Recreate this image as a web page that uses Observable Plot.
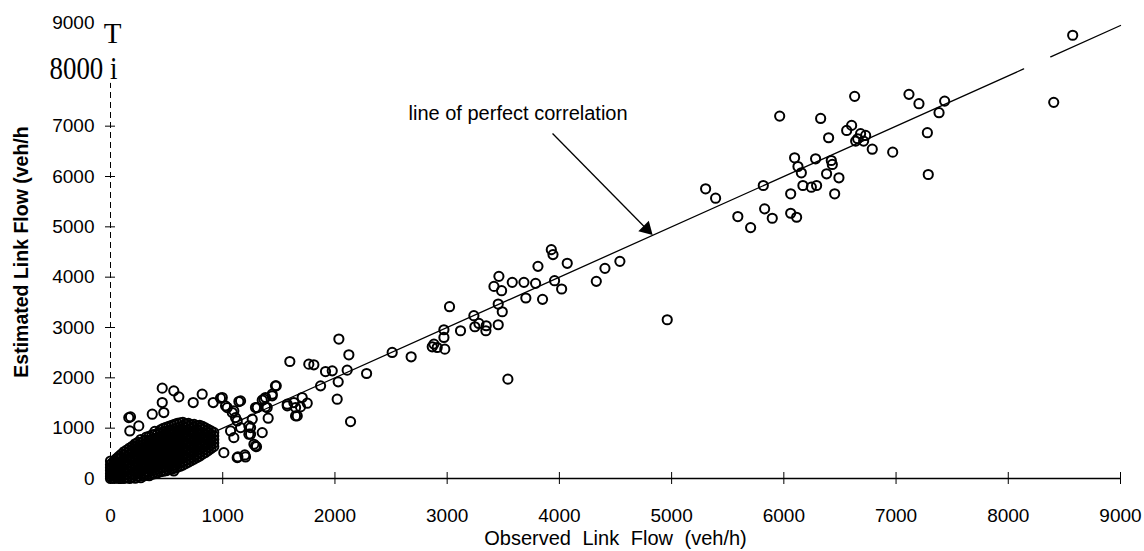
<!DOCTYPE html>
<html><head><meta charset="utf-8">
<script src="https://cdn.jsdelivr.net/npm/d3@7"></script>
<script src="https://cdn.jsdelivr.net/npm/@observablehq/plot@0.6"></script>
<style>body{margin:0;background:#fff}</style>
</head><body><div id="chart"></div>
<script>
// ---- data ----
const xTicks = [0,1000,2000,3000,4000,5000,6000,7000,8000,9000];
const yTicksMarked = [0,1000,2000,3000,4000,5000,6000,7000];
const yTickTop = [9000];
const yTickScanned = ["8000 i"];
const yTickScannedValue = [8000];
const glyphTop = ["T"];
const glyphTopValue = [9000];
const xLabel = "Observed Link Flow (veh/h)";
const yLabel = "Estimated Link Flow (veh/h";
const noteLabel = "line of perfect correlation";
const perfectSegments = [[0,8137],[8378,9000]];

const observed = [8574,8405,5963,6631,7115,7204,7433,7383,7279,7287,6970,6788,6328,6399,6604,6560,6640,6684,6729,6658,6711,6096,6126,6156,6283,6423,6432,6381,6491,6170,6245,6292,6061,6453,5817,5829,5897,6061,6114,5590,5704,5303,5392,
4961,4539,4406,3928,3943,4070,3809,4329,3461,3417,3485,3580,3684,3788,3957,4020,3701,3850,3455,3491,3021,3238,3247,3283,3348,3345,3455,3119,2971,2971,2882,2911,2979,2867,3541,
2035,2124,2510,2679,2282,2109,2029,2020,2139,1872,1976,1916,1767,1812,1598,1708,1575,1634,1649,1753,1664,1693,1477,1441,1367,1381,1292,1405,1352,1248,1292,1203,1129,1159,996,817,609,461,564,461,737,915,178,372,475,172,252,1010,564,1278,1248,1099,1070,1129,1085,1025,163,980,1144,297,89,0,1135,1197,1301,1233,1159,1233,1263,1114,1099,1040,1307,1396,1352,1381,1470,1441,1575,1649];
const estimated = [8806,7473,7200,7592,7632,7446,7498,7268,6870,6040,6484,6543,7154,6770,7015,6915,6703,6850,6816,6750,6703,6372,6199,6074,6352,6318,6239,6053,5974,5821,5787,5821,5656,5656,5821,5357,5171,5270,5190,5204,4985,5755,5569,
3154,4314,4175,4547,4448,4275,4215,3917,4016,3817,3731,3897,3897,3877,3930,3765,3586,3559,3466,3313,3413,3234,3015,3081,3035,2935,3055,2935,2955,2802,2670,2603,2570,2617,1974,
2770,2458,2504,2418,2086,2153,1920,1576,1130,1841,2139,2125,2272,2259,2325,1608,1443,1509,1409,1496,1244,1423,1841,1675,1576,1423,1409,1198,912,1011,647,428,414,1542,1608,1675,1622,1795,1741,1509,1509,1509,1224,1277,1310,945,1045,514,149,680,880,812,945,1144,1310,1443,1210,1596,1529,84,0,348,428,468,633,880,1011,1045,1178,1210,1343,1409,1409,1409,1556,1608,1841,1642,1476,1244];

// dense cluster near the origin: one observed value per column, estimated values listed
const clusterObserved = [0,15,35,55,75,95,120,145,170,195,220,245,270,295,320,345,370,395,420,445,470,495,520,545,570,595,620,645,670,695,720,745,770,795,820,845,870,895,920];
const clusterEstimated = [
[0,45,95,160,215,275],
[10,70,120,185,240,310],
[0,55,105,170,235,290,355],
[25,80,145,195,265,330,400],
[0,45,115,175,240,315,380,440],
[15,70,135,205,275,345,410,480],
[0,60,125,190,265,330,400,470,530],
[20,85,150,225,290,365,430,505,565],
[0,55,125,195,260,335,400,475,540,605],
[30,95,165,235,305,375,445,515,585,640],
[5,75,145,215,280,355,425,495,565,630,690],
[40,105,175,245,315,385,455,525,595,660,720],
[15,85,155,230,300,365,440,505,575,645,710,775],
[50,115,185,255,325,395,465,535,605,675,745],
[65,135,205,275,345,415,485,555,625,695,765,825],
[55,125,195,270,335,405,480,545,615,690,755,835],
[85,155,225,295,365,435,505,575,645,715,785,865],
[95,165,240,305,375,450,515,585,655,725,800,875,935],
[115,185,255,325,395,465,535,605,680,745,815,895],
[135,205,275,345,420,485,555,625,695,770,835,905,965],
[145,215,285,355,425,500,565,635,705,775,850,925,995],
[155,225,295,370,435,505,580,645,715,790,855,935,1015],
[175,245,315,385,455,525,595,665,735,805,875,955,1035],
[185,255,330,395,465,540,605,675,750,815,885,965,1055],
[205,275,345,415,485,555,625,695,765,835,905,985,1075],
[225,295,365,440,505,575,650,715,785,860,925,1005,1095],
[245,315,385,455,525,595,665,735,805,875,945,1025,1105],
[265,335,405,475,545,615,685,755,825,895,965,1045,1115],
[295,365,435,505,575,645,715,785,855,925,1005,1085],
[325,395,465,535,605,675,745,815,885,955,1035,1095],
[355,425,495,565,635,705,775,845,915,985,1065],
[385,455,525,595,665,735,805,875,945,1015,1075],
[415,485,555,625,695,765,835,905,975,1045],
[445,515,585,655,725,795,865,935,1005,1055],
[485,555,625,695,765,835,905,975,1035],
[515,585,655,725,795,865,935,1005],
[555,625,695,765,835,905,975],
[595,665,735,805,875,945],
[635,705,775,845,915]
];

// ---- tables ----
const points = observed.map((o, i) => ({obs: o, est: estimated[i]}));
const cluster = clusterObserved.flatMap((o, i) => clusterEstimated[i].map(e => ({obs: o, est: e})));
const allPoints = cluster.concat(points);
const lineSegs = perfectSegments.flatMap((s, i) => s.map(v => ({obs: v, est: v, seg: i})));

const serif = "'Liberation Serif', 'Times New Roman', serif";
const chart = Plot.plot({
  width: 1144, height: 551,
  marginLeft: 110, marginRight: 24, marginTop: 25, marginBottom: 73,
  style: {fontFamily: "'Liberation Sans', Arial, sans-serif", background: "white", color: "black"},
  x: {domain: [0, 9000]},
  y: {domain: [0, 9000]},
  marks: [
    Plot.ruleY([0], {stroke: "black", strokeWidth: 1.4}),
    Plot.ruleX([0], {y1: 0, y2: 7850, stroke: "black", strokeWidth: 1, strokeDasharray: "6,4"}),
    Plot.axisX({ticks: xTicks, tickSize: 12, dy: -6, tickPadding: 24, fontSize: 19, tickFormat: d => String(d), label: null}),
    Plot.axisY({ticks: yTicksMarked, tickSize: 10, dx: 5, tickPadding: 11, fontSize: 19, tickFormat: d => String(d), label: null}),
    Plot.axisY({ticks: yTickTop, tickSize: 0, tickPadding: 16, dy: -3, fontSize: 19, tickFormat: d => String(d), label: null}),
    Plot.text(yTickScanned, {x: 0, y: (d, i) => yTickScannedValue[i], text: d => d, textAnchor: "end", dx: 7, dy: -7, fontSize: 32, fontFamily: serif}),
    Plot.text(glyphTop, {x: 0, y: (d, i) => glyphTopValue[i], text: d => d, dx: 2, dy: 8, fontSize: 29, fontFamily: serif}),
    Plot.line(lineSegs, {x: "obs", y: "est", z: "seg", stroke: "black", strokeWidth: 1.3}),
    Plot.dot(allPoints, {x: "obs", y: "est", r: 4.6, stroke: "black", strokeWidth: 2, fill: "none"}),
    Plot.text([noteLabel], {x: 2656, y: 7252, text: d => d, textAnchor: "start", fontSize: 20}),
    Plot.link([noteLabel], {x1: 3939, y1: 6855, x2: 4777, y2: 4957, stroke: "black", strokeWidth: 1.3}),
    Plot.dot([noteLabel], {x: 4777, y: 4957, symbol: "triangle", rotate: 135, r: 5.5, fill: "black", stroke: "none"}),
    Plot.text([yLabel], {frameAnchor: "left", dx: -89, rotate: -90, textAnchor: "middle", text: d => d, fontSize: 19.5, fontWeight: "bold"}),
    Plot.text([xLabel], {frameAnchor: "bottom", dy: 66, text: d => d, fontSize: 20})
  ]
});
document.getElementById("chart").appendChild(chart);
d3.select(chart).selectAll("text")
  .filter(function() { return this.textContent === "8000 i"; })
  .attr("textLength", 68).attr("lengthAdjust", "spacingAndGlyphs");
d3.select(chart).selectAll("text").filter(function() { return this.textContent === xLabel; }).style("word-spacing", "6px");
</script>
</body></html>
